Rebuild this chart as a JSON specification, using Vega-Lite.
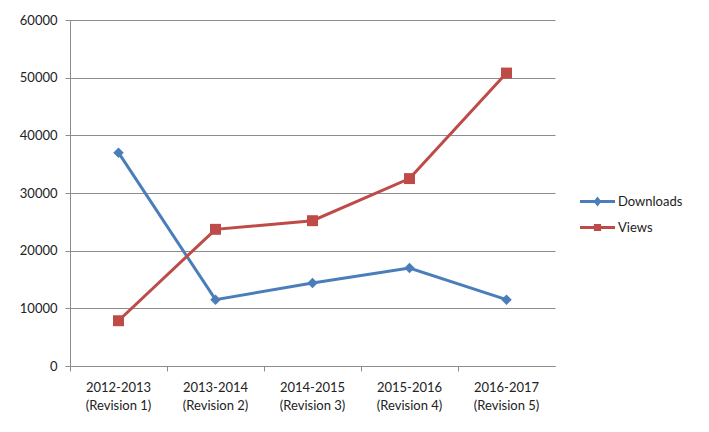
{
  "$schema": "https://vega.github.io/schema/vega-lite/v6.json",
  "width": 485,
  "height": 346,
  "autosize": {"type": "none"},
  "padding": {"left": 70, "top": 20, "right": 154, "bottom": 66},
  "background": "white",
  "config": {
    "view": {"stroke": null},
    "font": "Lato",
    "axis": {"labelFont": "Lato", "labelFontSize": 13, "labelColor": "#222222", "domainColor": "#8c8c8c", "tickColor": "#8c8c8c", "gridColor": "#8c8c8c", "gridWidth": 1, "domainWidth": 1, "tickSize": 5, "title": null}
  },
  "data": {
    "values": [
      {"period": "2012-2013|(Revision 1)", "series": "Downloads", "value": 37000},
      {"period": "2013-2014|(Revision 2)", "series": "Downloads", "value": 11500},
      {"period": "2014-2015|(Revision 3)", "series": "Downloads", "value": 14400},
      {"period": "2015-2016|(Revision 4)", "series": "Downloads", "value": 17000},
      {"period": "2016-2017|(Revision 5)", "series": "Downloads", "value": 11500},
      {"period": "2012-2013|(Revision 1)", "series": "Views", "value": 7850},
      {"period": "2013-2014|(Revision 2)", "series": "Views", "value": 23700},
      {"period": "2014-2015|(Revision 3)", "series": "Views", "value": 25200},
      {"period": "2015-2016|(Revision 4)", "series": "Views", "value": 32500},
      {"period": "2016-2017|(Revision 5)", "series": "Views", "value": 50800}
    ]
  },
  "encoding": {
    "x": {
      "field": "period", "type": "nominal", "sort": null,
      "scale": {"type": "band", "paddingInner": 0, "paddingOuter": 0},
      "axis": {"labelAngle": 0, "bandPosition": 0, "labelExpr": "split(datum.label, '|')", "labelPadding": 10, "labelLineHeight": 18, "grid": false}
    },
    "y": {
      "field": "value", "type": "quantitative",
      "scale": {"domain": [0, 60000], "nice": false},
      "axis": {"values": [0, 10000, 20000, 30000, 40000, 50000, 60000], "format": "d", "labelPadding": 8, "grid": true}
    },
    "color": {
      "field": "series", "type": "nominal",
      "scale": {"domain": ["Downloads", "Views"], "range": ["#4a7ebb", "#be4b48"]},
      "legend": {
        "orient": "none", "legendX": 512, "legendY": 166, "title": null,
        "labelFont": "Lato", "labelFontSize": 13, "labelColor": "#222222",
        "symbolSize": 784, "symbolStrokeWidth": 3, "rowPadding": 1, "labelOffset": 5,
        "symbolType": "M-1.25,0L1.25,0M0,-0.18L0.14,0L0,0.18L-0.14,0Z",
        "encode": {
          "symbols": {
            "update": {
              "shape": {"signal": "datum.value === 'Downloads' ? 'M-1.25,0L1.25,0M0,-0.18L0.14,0L0,0.18L-0.14,0Z' : 'M-1.25,0L1.25,0M-0.15,-0.15L0.15,-0.15L0.15,0.15L-0.15,0.15Z'"},
              "fill": {"signal": "datum.value === 'Downloads' ? '#4a7ebb' : '#be4b48'"},
              "stroke": {"signal": "datum.value === 'Downloads' ? '#4a7ebb' : '#be4b48'"},
              "strokeWidth": {"value": 3},
              "opacity": {"value": 1},
              "fillOpacity": {"value": 1}
            }
          }
        }
      }
    }
  },
  "layer": [
    {
      "mark": {"type": "line", "strokeWidth": 3}
    },
    {
      "transform": [{"filter": "datum.series === 'Downloads'"}],
      "mark": {"type": "point", "filled": true, "opacity": 1, "shape": "diamond", "size": 110}
    },
    {
      "transform": [{"filter": "datum.series === 'Views'"}],
      "mark": {"type": "point", "filled": true, "opacity": 1, "shape": "square", "size": 120}
    }
  ]
}
